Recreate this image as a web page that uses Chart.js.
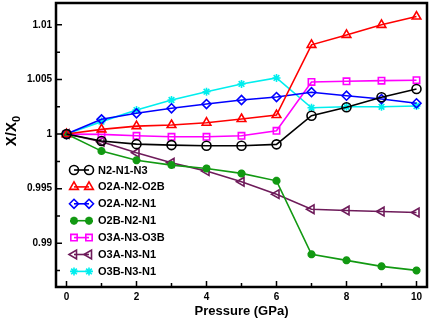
<!DOCTYPE html>
<html>
<head>
<meta charset="utf-8">
<script src="https://cdn.jsdelivr.net/npm/chart.js@4"></script>
<style>
  html, body { margin: 0; padding: 0; background: #fff; }
  #wrap { width: 429px; height: 319px; }
</style>
</head>
<body>
<div id="wrap"><canvas id="chart"></canvas></div>
<script>
// pressure values (GPa)
const pressure = [0, 1, 2, 3, 4, 5, 6, 7, 8, 9, 10];

// X/X0 for each bond angle
const n2n1n3   = [1, 0.99936, 0.99908, 0.99899, 0.99893, 0.99893, 0.99906, 1.00168, 1.00245, 1.00337, 1.00413];
const o2an2o2b = [1, 1.00043, 1.00073, 1.00083, 1.00104, 1.00138, 1.00174, 1.00817, 1.00908, 1.01, 1.01076];
const o2an2n1  = [1, 1.00135, 1.0019, 1.00236, 1.00275, 1.00312, 1.00339, 1.00383, 1.00351, 1.00321, 1.00282];
const o2bn2n1  = [1, 0.99844, 0.99761, 0.99716, 0.99685, 0.9964, 0.99572, 0.98899, 0.98844, 0.98789, 0.98752];
const o3an3o3b = [1, 0.99997, 0.99984, 0.99975, 0.99975, 0.99984, 1.0003, 1.00477, 1.00483, 1.00489, 1.00493];
const o3an3n1  = [1, 0.9993, 0.99829, 0.99737, 0.99661, 0.99563, 0.9945, 0.99312, 0.993, 0.99291, 0.99282];
const o3bn3n1  = [1, 1.00114, 1.0022, 1.00312, 1.00388, 1.00459, 1.00514, 1.00241, 1.0025, 1.0025, 1.00257];

const seriesLabels = ['N2-N1-N3', 'O2A-N2-O2B', 'O2A-N2-N1', 'O2B-N2-N1', 'O3A-N3-O3B', 'O3A-N3-N1', 'O3B-N3-N1'];

// tick labels
const xTicks = [0, 2, 4, 6, 8, 10];
const xMinor = [1, 3, 5, 7, 9];
const yTicks = [0.99, 0.995, 1, 1.005, 1.01];
const yTickLabels = ['0.99', '0.995', '1', '1.005', '1.01'];
const yMinor = [0.9875, 0.9925, 0.9975, 1.0025, 1.0075];

const toPts = vals => pressure.map((p, i) => ({ x: p, y: vals[i] }));

const styles = [
  { color: '#000000', pointStyle: 'circle', radius: 4.5, rotation: 0, fill: false, bw: 1.6 },
  { color: '#ff0000', pointStyle: 'triangle', radius: 5, rotation: 0, fill: false, bw: 1.6 },
  { color: '#0000ff', pointStyle: 'rectRot', radius: 4.5, rotation: 0, fill: false, bw: 1.6 },
  { color: '#129912', pointStyle: 'star', radius: 4, rotation: 0, fill: true, bw: 2.6 },
  { color: '#ff00ff', pointStyle: 'rect', radius: 4.5, rotation: 0, fill: false, bw: 1.6 },
  { color: '#6e1b5a', pointStyle: 'triangle', radius: 5, rotation: -90, fill: false, bw: 1.6 },
  { color: '#00eeee', pointStyle: 'star', radius: 4, rotation: 0, fill: false, bw: 1.6 }
];
const allSeries = [n2n1n3, o2an2o2b, o2an2n1, o2bn2n1, o3an3o3b, o3an3n1, o3bn3n1];

const datasets = allSeries.map((vals, i) => ({
  label: seriesLabels[i],
  data: toPts(vals),
  borderColor: styles[i].color,
  backgroundColor: styles[i].fill ? styles[i].color : '#ffffff',
  borderWidth: 1.6,
  pointStyle: styles[i].pointStyle,
  pointRadius: styles[i].radius,
  pointRotation: styles[i].rotation,
  pointBorderWidth: styles[i].bw,
  pointBackgroundColor: styles[i].fill ? styles[i].color : 'rgba(255,255,255,0)',
  tension: 0
}));

// frame, inward ticks, y title, legend
const framePlugin = {
  id: 'frame',
  afterDraw(chart) {
    const { ctx, chartArea: a, scales: { x, y } } = chart;
    ctx.save();
    ctx.strokeStyle = '#000';
    ctx.lineWidth = 1.5;
    ctx.beginPath();
    xTicks.forEach(v => { const px = x.getPixelForValue(v); ctx.moveTo(px, a.bottom); ctx.lineTo(px, a.bottom - 6); });
    xMinor.forEach(v => { const px = x.getPixelForValue(v); ctx.moveTo(px, a.bottom); ctx.lineTo(px, a.bottom - 4); });
    yTicks.forEach(v => { const py = y.getPixelForValue(v); ctx.moveTo(a.left, py); ctx.lineTo(a.left + 6, py); });
    yMinor.forEach(v => { const py = y.getPixelForValue(v); ctx.moveTo(a.left, py); ctx.lineTo(a.left + 4, py); });
    ctx.stroke();
    ctx.lineWidth = 2.5;
    ctx.strokeRect(a.left, a.top, a.right - a.left, a.bottom - a.top);

    // y axis title X/X0
    ctx.fillStyle = '#000';
    ctx.translate(12, 131);
    ctx.rotate(-Math.PI / 2);
    ctx.font = 'bold 15px "Liberation Sans", Arial, sans-serif';
    ctx.textBaseline = 'middle';
    ctx.textAlign = 'left';
    const main = 'X/X';
    const w = ctx.measureText(main).width;
    ctx.font = 'bold 11px "Liberation Sans", Arial, sans-serif';
    const w0 = ctx.measureText('0').width;
    const start = -(w + w0) / 2;
    ctx.font = 'bold 15px "Liberation Sans", Arial, sans-serif';
    ctx.fillText(main, start, 0);
    ctx.font = 'bold 11px "Liberation Sans", Arial, sans-serif';
    ctx.fillText('0', start + w, 5);
    ctx.restore();

    // legend
    ctx.save();
    ctx.font = 'bold 11px "Liberation Sans", Arial, sans-serif';
    ctx.textBaseline = 'middle';
    ctx.textAlign = 'left';
    chart.data.datasets.forEach((ds, i) => {
      const ly = 170 + i * 16.9;
      ctx.strokeStyle = ds.borderColor;
      ctx.lineWidth = 1.6;
      ctx.beginPath();
      ctx.moveTo(74, ly);
      ctx.lineTo(89, ly);
      ctx.stroke();
      ctx.fillStyle = ds.pointBackgroundColor;
      ctx.lineWidth = ds.pointBorderWidth;
      [74, 89].forEach(px => {
        Chart.helpers.drawPoint(ctx, {
          pointStyle: ds.pointStyle, radius: ds.pointRadius,
          rotation: ds.pointRotation, borderWidth: ds.pointBorderWidth
        }, px, ly);
      });
      ctx.fillStyle = '#000';
      ctx.fillText(ds.label, 98, ly + 0.5);
    });
    ctx.restore();
  }
};

new Chart(document.getElementById('chart'), {
  type: 'line',
  data: { datasets },
  plugins: [framePlugin],
  options: {
    responsive: true,
    maintainAspectRatio: false,
    animation: false,
    layout: { autoPadding: false, padding: { top: 3, right: 2, left: 0, bottom: 0 } },
    plugins: { legend: { display: false }, tooltip: { enabled: false } },
    scales: {
      x: {
        type: 'linear',
        min: -0.3,
        max: 10.3,
        afterFit(s) { s.height = 32; s.paddingLeft = 0; s.paddingRight = 0; },
        afterBuildTicks(s) { s.ticks = xTicks.map(v => ({ value: v })); },
        grid: { display: false, drawTicks: false },
        border: { display: false },
        ticks: {
          color: '#000',
          padding: 4,
          font: { family: '"Liberation Sans", Arial, sans-serif', size: 10, weight: 'bold' },
          maxRotation: 0,
          callback: v => String(v)
        },
        title: {
          display: true,
          text: 'Pressure (GPa)',
          color: '#000',
          padding: { top: 1, bottom: 0 },
          font: { family: '"Liberation Sans", Arial, sans-serif', size: 13, weight: 'bold' }
        }
      },
      y: {
        min: 0.986,
        max: 1.012,
        afterFit(s) { s.width = 56; s.paddingTop = 0; s.paddingBottom = 0; },
        afterBuildTicks(s) { s.ticks = yTicks.map(v => ({ value: v })); },
        grid: { display: false, drawTicks: false },
        border: { display: false },
        ticks: {
          color: '#000',
          padding: 4,
          font: { family: '"Liberation Sans", Arial, sans-serif', size: 10, weight: 'bold' },
          callback: v => yTickLabels[yTicks.indexOf(v)]
        }
      }
    }
  }
});
</script>
</body>
</html>
